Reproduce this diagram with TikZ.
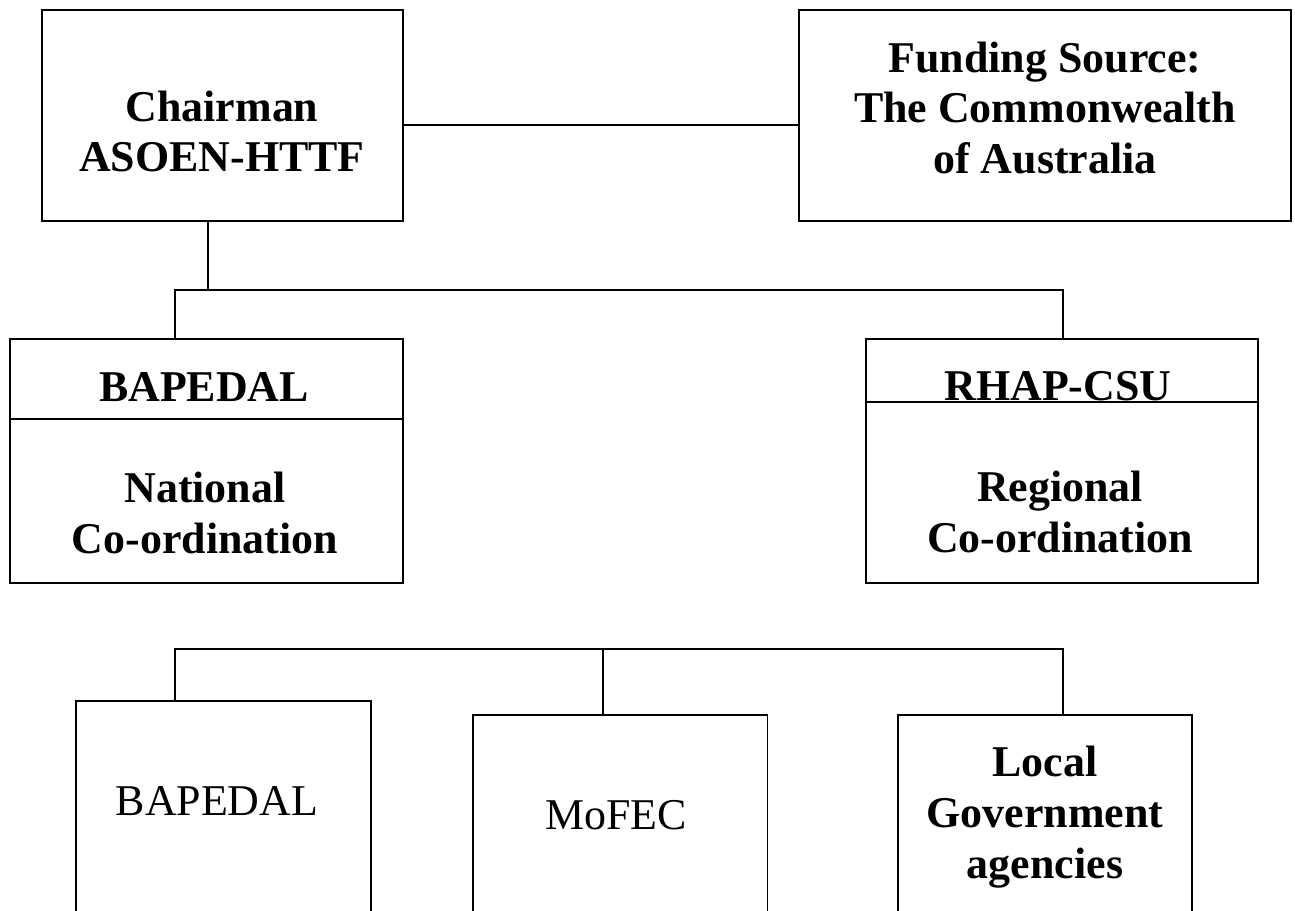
\documentclass[tikz,border=0pt]{standalone}
\usepackage{fontspec}
\setmainfont{Liberation Serif}
\usetikzlibrary{positioning}
\tikzstyle{wire} = [line width=1.1pt]
\tikzstyle{unitbox} = [
    rectangle, draw=black, line width=1.1pt, inner sep=0pt, outer sep=0pt]
\tikzstyle{boxtext} = [
    align=center, inner sep=0pt, font=\fontsize{25}{29}\selectfont\bfseries]
\tikzstyle{plaintext} = [
    align=center, inner sep=0pt, font=\fontsize{25}{29}\selectfont]

\begin{document}
\begin{tikzpicture}[x=0.02cm, y=-0.02cm]
\useasboundingbox (0,0) rectangle (1295,911);
\clip (0,0) rectangle (1295,911);

% top row
\node (chairman) [unitbox, minimum width=7.22cm, minimum height=4.22cm] at (222.5,115.5) {};
\node (funding) [unitbox, minimum width=9.84cm, minimum height=4.22cm, right=7.92cm of chairman] {};

% co-ordination
\node (national-head) [unitbox, minimum width=7.86cm, minimum height=1.6cm] at (206.5,379) {};
\node (national-body) [unitbox, minimum width=7.86cm, minimum height=3.28cm, below=0pt of national-head] {};
\node (rhap-head) [unitbox, minimum width=7.84cm, minimum height=1.26cm] at (1062,370.5) {};
\node (rhap-body) [unitbox, minimum width=7.84cm, minimum height=3.62cm, below=0pt of rhap-head] {};

% agencies
\node (bapedal) [unitbox, minimum width=5.9cm, minimum height=4.6cm, anchor=north] at (223.5,701) {};
\node (mofec) [unitbox, minimum width=5.9cm, minimum height=4.4cm, anchor=north] at (620,715) {};
\node (local) [unitbox, minimum width=5.88cm, minimum height=4.4cm, anchor=north] at (1045,715) {};

\node (chairman-txt) [boxtext] at (222,131.5) {Chairman\\ASOEN-HTTF};
\node (funding-txt) [boxtext] at (1045,108) {Funding Source:\\The Commonwealth\\of Australia};
\node (national-head-txt) [boxtext, anchor=base] at (204,402) {BAPEDAL};
\node (national-txt) [boxtext] at (205,513) {National\\Co-ordination};
\node (rhap-head-txt) [boxtext, anchor=base] at (1058,401) {RHAP-CSU};
\node (regional-txt) [boxtext] at (1060,512) {Regional\\Co-ordination};
\node (bapedal-txt) [plaintext, anchor=base] at (217,815) {BAPEDAL};
\node (mofec-txt) [plaintext, anchor=base] at (616,829) {MoFEC};
\node (local-txt) [boxtext] at (1045,817) {Local\\Government\\agencies};

\coordinate (fund-link) at (600,125);
\coordinate (tee) at (208,290);
\coordinate (bus-left) at (175,290);
\coordinate (bus-right) at (1063,290);
\coordinate (low-left) at (175,649);
\coordinate (low-mid) at (603,649);
\coordinate (low-right) at (1063,649);

\draw [wire] (chairman.east |- fund-link) -- (funding.west |- fund-link);
\draw [wire] (chairman.south -| tee) -- (tee);
\draw [wire] (national-head.north -| bus-left) -- (bus-left) -- (bus-right) -- (rhap-head.north -| bus-right);
\draw [wire] (bapedal.north -| low-left) -- (low-left) -- (low-right) -- (local.north -| low-right);
\draw [wire] (low-mid) -- (mofec.north -| low-mid);
\end{tikzpicture}
\end{document}
